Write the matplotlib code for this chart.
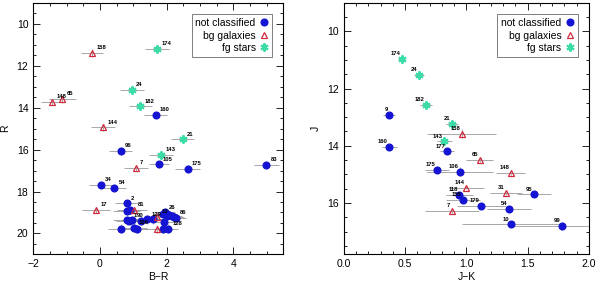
import matplotlib
matplotlib.use("Agg")
import matplotlib.pyplot as plt
from matplotlib.ticker import MultipleLocator
from matplotlib.lines import Line2D

plt.rcParams["font.family"] = ["Liberation Sans", "DejaVu Sans"]

# ---- left panel: B-R vs R ----
nc_id_l = ["160", "96", "105", "175", "83", "34", "54", "2",
           "", "", "", "1", "90", "", "129", "", "", "26", "", "",
           "", "", "86", "", "", "", "106", "", "", "128"]
nc_br = [1.67, 0.62, 1.76, 2.63, 4.99, 0.02, 0.43, 0.80,
         0.80, 0.90, 0.80, 0.87, 0.97, 1.23, 1.41, 1.58, 1.88, 1.95, 2.02, 2.08,
         2.15, 2.22, 2.28, 2.00, 1.93, 0.64, 1.02, 1.12, 1.88, 2.05]
nc_r = [14.36, 16.06, 16.71, 16.93, 16.72, 17.67, 17.84, 18.57,
        18.94, 18.90, 19.38, 19.41, 19.38, 19.41, 19.33, 19.33, 19.05, 19.00, 19.08, 19.12,
        19.18, 19.22, 19.25, 19.15, 19.45, 19.77, 19.72, 19.80, 19.77, 19.77]
nc_br_err = [0.35, 0.35, 0.30, 0.37, 0.37, 0.35, 0.35, 0.35,
             0.40, 0.40, 0.40, 0.40, 0.35, 0.35, 0.35, 0.35, 0.30, 0.30, 0.30, 0.30,
             0.30, 0.30, 0.30, 0.30, 0.35, 0.40, 0.40, 0.35, 0.30, 0.30]
nc_r_err = [0.15, 0.18, 0.18, 0.18, 0.18, 0.15, 0.15, 0.18,
            0.18, 0.18, 0.20, 0.20, 0.20, 0.20, 0.20, 0.20, 0.20, 0.20, 0.20, 0.20,
            0.20, 0.20, 0.20, 0.20, 0.20, 0.20, 0.20, 0.20, 0.20, 0.20]

bg_id_l = ["158", "148", "65", "144", "7", "17", "81", "13", ""]
bg_br = [-0.23, -1.43, -1.13, 0.09, 1.08, -0.12, 1.02, 1.71, 1.71]
bg_r = [11.40, 13.72, 13.59, 14.94, 16.88, 18.88, 18.87, 19.20, 19.80]
bg_br_err = [0.33, 0.35, 0.40, 0.37, 0.35, 0.42, 0.40, 0.35, 0.35]
bg_r_err = [0.20, 0.15, 0.18, 0.15, 0.15, 0.15, 0.15, 0.20, 0.20]

fg_id_l = ["174", "24", "182", "21", "143"]
fg_br = [1.71, 0.96, 1.21, 2.48, 1.83]
fg_r = [11.21, 13.15, 13.94, 15.51, 16.25]
fg_br_err = [0.37, 0.36, 0.35, 0.35, 0.37]
fg_r_err = [0.15, 0.15, 0.15, 0.15, 0.15]

# ---- right panel: J-K vs J ----
nc_id_r = ["9", "160", "177", "175", "106", "95", "118", "155", "179", "54", "10", "99"]
nc_jk = [0.37, 0.37, 0.84, 0.76, 0.95, 1.55, 0.94, 0.97, 1.12, 1.35, 1.36, 1.78]
nc_j = [12.92, 14.05, 14.20, 14.84, 14.90, 15.70, 15.72, 15.89, 16.11, 16.20, 16.75, 16.80]
nc_jk_err = [0.05, 0.06, 0.06, 0.10, 0.27, 0.14, 0.11, 0.14, 0.20, 0.18, 0.40, 0.40]
nc_j_err = [0.04, 0.04, 0.05, 0.05, 0.15, 0.06, 0.06, 0.06, 0.08, 0.08, 0.08, 0.15]

bg_id_r = ["158", "65", "148", "144", "31", "7"]
bg_jk = [0.96, 1.11, 1.36, 1.00, 1.32, 0.88]
bg_j = [13.58, 14.49, 14.96, 15.46, 15.66, 16.29]
bg_jk_err = [0.28, 0.11, 0.12, 0.14, 0.13, 0.22]
bg_j_err = [0.15, 0.06, 0.06, 0.06, 0.06, 0.06]

fg_id_r = ["174", "24", "182", "21", "143"]
fg_jk = [0.47, 0.61, 0.67, 0.88, 0.82]
fg_j = [10.96, 11.53, 12.56, 13.24, 13.85]
fg_jk_err = [0.03, 0.04, 0.05, 0.05, 0.06]
fg_j_err = [0.03, 0.03, 0.04, 0.04, 0.04]

blue = "#1414d2"
red = "#d2283c"
green = "#3cdca8"
grey = "#9a9a9a"


def draw(ax, groups, label_dx):
    for x, y, xe, ye, ids, kind in groups:
        ax.errorbar(x, y, xerr=xe, yerr=ye, fmt="none", ecolor=grey,
                    elinewidth=0.6, capsize=0, zorder=1)
        if kind == "nc":
            ax.plot(x, y, "o", ms=4.8, color=blue, mec=blue, zorder=3)
        elif kind == "bg":
            ax.plot(x, y, "^", ms=4.5, mfc="none", mec=red, mew=0.9, zorder=3)
        else:
            ax.plot(x, y, marker=(6, 2, 0), ls="none", ms=5.8, color=green,
                    mew=1.5, zorder=3)
        for xi, yi, s in zip(x, y, ids):
            if s:
                ax.annotate(s, (xi, yi), xytext=(label_dx, 2), textcoords="offset points",
                            fontsize=4.2, fontweight="bold",
                            ha="left" if label_dx > 0 else "right", va="bottom", zorder=4)


def style(ax):
    ax.tick_params(which="both", direction="in", top=True, right=True,
                   labelsize=7.5, width=0.6)
    ax.tick_params(which="major", length=5)
    ax.tick_params(which="minor", length=2.5)
    for sp in ax.spines.values():
        sp.set_linewidth(0.8)
    handles = [
        Line2D([], [], marker="o", ls="none", ms=4.8, color=blue),
        Line2D([], [], marker="^", ls="none", ms=4.8, mfc="none", mec=red, mew=0.9),
        Line2D([], [], marker=(6, 2, 0), ls="none", ms=5.8, color=green, mew=1.5),
    ]
    leg = ax.legend(handles, ["not classified", "bg galaxies", "fg stars"],
                    loc="upper right", markerfirst=False, fontsize=7.5,
                    fancybox=False, handlelength=0.8, handletextpad=0.4,
                    borderpad=0.35, labelspacing=0.25, borderaxespad=1.1)
    leg.get_frame().set_edgecolor("#444444")
    leg.get_frame().set_linewidth(0.6)


fig = plt.figure(figsize=(6.0, 2.83), dpi=100)
ax1 = fig.add_axes([0.0555, 0.101, 0.4167, 0.889])
ax2 = fig.add_axes([0.5733, 0.101, 0.4083, 0.889])

draw(ax1, [(nc_br, nc_r, nc_br_err, nc_r_err, nc_id_l, "nc"),
           (bg_br, bg_r, bg_br_err, bg_r_err, bg_id_l, "bg"),
           (fg_br, fg_r, fg_br_err, fg_r_err, fg_id_l, "fg")], 3)
ax1.set_xlim(-2, 5.5)
ax1.set_ylim(21, 9)
ax1.xaxis.set_major_locator(MultipleLocator(2))
ax1.xaxis.set_minor_locator(MultipleLocator(0.5))
ax1.yaxis.set_major_locator(MultipleLocator(2))
ax1.yaxis.set_minor_locator(MultipleLocator(0.5))
ax1.set_xlabel("B\u2212R", fontsize=7.5, labelpad=2)
ax1.set_ylabel("R", fontsize=7.5, labelpad=5)
style(ax1)

draw(ax2, [(nc_jk, nc_j, nc_jk_err, nc_j_err, nc_id_r, "nc"),
           (bg_jk, bg_j, bg_jk_err, bg_j_err, bg_id_r, "bg"),
           (fg_jk, fg_j, fg_jk_err, fg_j_err, fg_id_r, "fg")], -1)
ax2.set_xlim(0, 2.0)
ax2.set_ylim(17.8, 9)
ax2.xaxis.set_major_locator(MultipleLocator(0.5))
ax2.xaxis.set_minor_locator(MultipleLocator(0.1))
ax2.yaxis.set_major_locator(MultipleLocator(2))
ax2.yaxis.set_minor_locator(MultipleLocator(0.5))
ax2.xaxis.set_major_formatter(matplotlib.ticker.FormatStrFormatter("%.1f"))
ax2.set_xlabel("J\u2212K", fontsize=7.5, labelpad=2)
ax2.set_ylabel("J", fontsize=7.5, labelpad=5)
style(ax2)

fig.savefig("out.png", dpi=100)
